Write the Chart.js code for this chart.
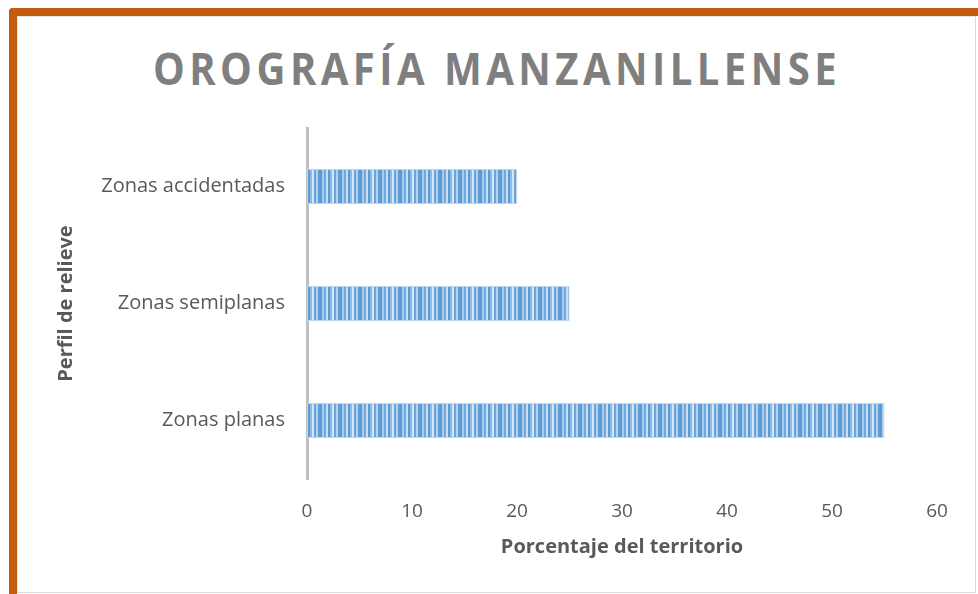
<!DOCTYPE html>
<html lang="es">

<head>
    <meta charset="UTF-8">
    <title>Orografía Manzanillense</title>
    <style>
        body {
            margin: 0;
            width: 978px;
            height: 594px;
            overflow: hidden;
            background: #ffffff;
            font-family: 'Open Sans', sans-serif;
        }

        #marco {
            position: absolute;
            left: 9px;
            top: 8px;
            width: 961px;
            height: 586px;
            border-left: 8px solid #c55a11;
            border-top: 8px solid #c55a11;
            border-top-left-radius: 4px;
        }

        #interior {
            position: absolute;
            left: 17px;
            top: 16px;
            width: 957px;
            height: 575px;
            border: 1px solid #d9d9d9;
            border-left-color: #e6e6e6;
            border-top-color: #e6e6e6;
        }

        #titulo {
            position: absolute;
            left: 0;
            width: 994px;
            top: 38px;
            text-align: center;
            font-size: 45px;
            font-weight: bold;
            letter-spacing: 5px;
            color: #7f7f7f;
            line-height: 60px;
            transform: scaleX(0.89);
        }

        #grafico {
            position: absolute;
            left: 0;
            top: 0;
        }
    </style>
</head>

<body>
    <div id="marco"></div>
    <div id="interior"></div>
    <div id="titulo">OROGRAFÍA MANZANILLENSE</div>
    <canvas id="grafico" width="978" height="594"></canvas>

    <script src="https://cdn.jsdelivr.net/npm/chart.js"></script>
    <script>
        // datos
        var categorias = ['Zonas accidentadas', 'Zonas semiplanas', 'Zonas planas'];
        var porcentajes = [20, 25, 55];
        var ticksX = [0, 10, 20, 30, 40, 50, 60];

        // patrón de rayas verticales como el relleno de Excel
        function crearRayas() {
            var tonos = ['#5b9bd5', '#a9cbec', '#6ea8dd', '#c9def3', '#5b9bd5', '#8dbbe6', '#d3e5f6', '#6aa4db', '#b3d1ef', '#5f9fd8'];
            var c = document.createElement('canvas');
            c.width = tonos.length * 2;
            c.height = 10;
            var g = c.getContext('2d');
            for (var i = 0; i < tonos.length; i++) {
                g.fillStyle = tonos[i];
                g.fillRect(i * 2, 0, 2, 10);
            }
            return g.createPattern(c, 'repeat');
        }

        var gris = '#595959';
        var fuente = "'Open Sans', sans-serif";

        var ctx = document.getElementById('grafico').getContext('2d');
        var grafico = new Chart(ctx, {
            type: 'bar',
            data: {
                labels: categorias,
                datasets: [{
                    label: 'Porcentaje del territorio',
                    data: porcentajes,
                    backgroundColor: crearRayas(),
                    borderColor: '#bdd7ee',
                    borderWidth: 1,
                    categoryPercentage: 1,
                    barPercentage: 0.3
                }]
            },
            options: {
                indexAxis: 'y',
                responsive: false,
                animation: false,
                layout: {
                    padding: { left: 50, top: 128, right: 41, bottom: 31 }
                },
                plugins: {
                    legend: { display: false },
                    tooltip: { enabled: false }
                },
                scales: {
                    x: {
                        min: 0,
                        max: 60,
                        afterBuildTicks: function (eje) {
                            eje.ticks = ticksX.map(function (v) { return { value: v }; });
                        },
                        afterFit: function (eje) { eje.height = 84; },
                        grid: { display: false, drawTicks: false },
                        border: { display: false },
                        ticks: {
                            padding: 21,
                            color: gris,
                            font: { family: fuente, size: 19 }
                        },
                        title: {
                            display: true,
                            text: 'Porcentaje del territorio',
                            color: gris,
                            font: { family: fuente, size: 20, weight: 'bold' }
                        }
                    },
                    y: {
                        afterFit: function (eje) { eje.width = 257; },
                        grid: { display: false, drawTicks: false },
                        border: { display: true, color: '#bfbfbf', width: 3 },
                        ticks: {
                            padding: 22,
                            color: gris,
                            font: { family: fuente, size: 20 }
                        },
                        title: {
                            display: true,
                            text: 'Perfil de relieve',
                            color: gris,
                            font: { family: fuente, size: 20, weight: 'bold' }
                        }
                    }
                }
            }
        });
    </script>
</body>

</html>
